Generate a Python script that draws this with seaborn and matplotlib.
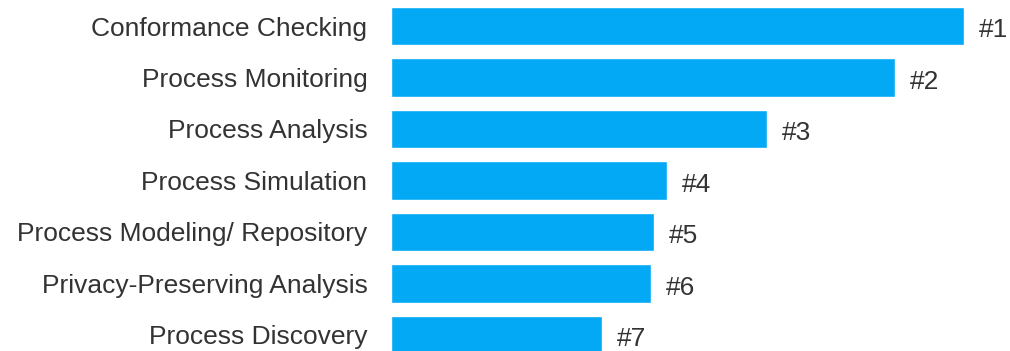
import matplotlib
matplotlib.use("Agg")
import matplotlib.pyplot as plt
import pandas as pd
import seaborn as sns

# categories and bar lengths
topics = ["Conformance Checking", "Process Monitoring", "Process Analysis",
          "Process Simulation", "Process Modeling/ Repository",
          "Privacy-Preserving Analysis", "Process Discovery"]
scores = [573, 504, 376, 276, 263, 260, 211]
ranks = ["#1", "#2", "#3", "#4", "#5", "#6", "#7"]

df = pd.DataFrame({"topic": topics, "score": scores})

sns.set_style("white")
plt.rcParams['font.family'] = ['Liberation Sans', 'DejaVu Sans']

fig = plt.figure(figsize=(10.10, 3.51), dpi=100)
ax = fig.add_axes([391 / 1010, 0, 1 - 391 / 1010, 1])

sns.barplot(data=df, x="score", y="topic", color="#03A9F4", saturation=1,
            width=0.74, ax=ax)

for bar, r in zip(ax.patches, ranks):
    ax.annotate(r, (bar.get_width(), bar.get_y() + bar.get_height() / 2),
                xytext=(11, -3), textcoords="offset points",
                ha="left", va="center", fontsize=19, color="#333333")

ax.set_xlim(0, 619)
ax.set_ylim(6.311, -0.505)
ax.set_xlabel("")
ax.set_ylabel("")
ax.set_xticks([])
ax.tick_params(axis="y", length=0, pad=17, labelsize=19, labelcolor="#333333")
sns.despine(ax=ax, left=True, bottom=True)

fig.savefig("out.png", dpi=100)
